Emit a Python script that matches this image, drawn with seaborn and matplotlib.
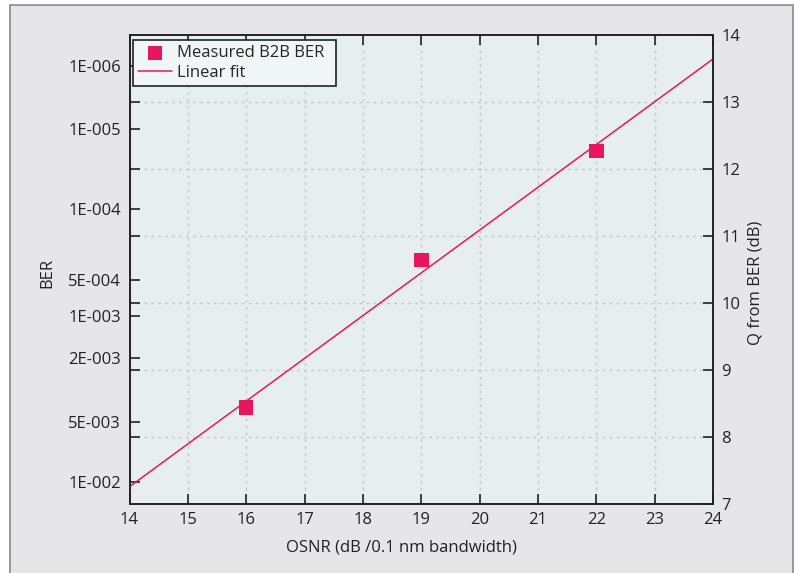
import math
import numpy as np
import pandas as pd
import matplotlib
matplotlib.use("Agg")
import matplotlib.pyplot as plt
import seaborn as sns

# measured back-to-back points (Q in dB)
osnr = [16, 19, 22]
q_db = [8.44, 10.64, 12.27]

ber_ticks = [1e-2, 5e-3, 2e-3, 1e-3, 5e-4, 1e-4, 1e-5, 1e-6]
ber_labels = ["1E-002", "5E-003", "2E-003", "1E-003", "5E-004", "1E-004", "1E-005", "1E-006"]
q_ticks = [7, 8, 9, 10, 11, 12, 13, 14]
x_ticks = list(range(14, 25))


def erfcinv(v):
    lo, hi = 0.0, 10.0
    for _ in range(200):
        mid = (lo + hi) / 2
        if math.erfc(mid) > v:
            lo = mid
        else:
            hi = mid
    return (lo + hi) / 2


def ber_to_qdb(b):
    return 20 * math.log10(math.sqrt(2) * erfcinv(2 * b))


pink = "#e8175d"
ink = "#222222"
sns.set_style("ticks")
plt.rcParams["font.family"] = ["Open Sans", "DejaVu Sans"]
plt.rcParams["font.size"] = 12

fig = plt.figure(figsize=(7.95, 5.73), dpi=100, facecolor="white")
frame = plt.Rectangle((10 / 795, -0.05), 783 / 795, 568 / 573 + 0.05, transform=fig.transFigure,
                      facecolor="#e6e6e8", edgecolor="#8a8a8a", linewidth=1.2, zorder=-10)
fig.patches.append(frame)

ax = fig.add_axes([129.5 / 795, 1 - 504 / 573, (713 - 129.5) / 795, (504 - 35) / 573])
ax.set_facecolor("#e6efee")

slope, icpt = np.polyfit(osnr, q_db, 1)
fit = pd.DataFrame({"x": [14, 24]})
fit["y"] = slope * fit["x"] + icpt
df = pd.DataFrame({"x": osnr, "y": q_db})

sns.lineplot(data=fit, x="x", y="y", ax=ax, color=pink, linewidth=1.1, label="Linear fit", zorder=3)
sns.scatterplot(data=df, x="x", y="y", ax=ax, color=pink, marker="s", s=110, edgecolor="none",
                label="Measured B2B BER", zorder=4)

ax.set_xlim(14, 24)
ax.set_ylim(7, 14)
ax.set_xticks(x_ticks)
ax.set_yticks([ber_to_qdb(b) for b in ber_ticks])
ax.set_yticklabels(ber_labels)
ax.set_yticks(q_ticks[1:-1], minor=True)
ax.grid(axis="x", which="major", color="#c4c8c8", linestyle=(0, (2, 3)), linewidth=1)
ax.grid(axis="y", which="minor", color="#c4c8c8", linestyle=(0, (2, 3)), linewidth=1)
ax.tick_params(which="both", direction="in", length=7, width=1.2, top=True, color=ink,
               labelcolor=ink, pad=6)
ax.set_xlabel("OSNR (dB /0.1 nm bandwidth)", color=ink, labelpad=8)
ax.xaxis.set_label_coords(0.466, -0.075)
ax.set_ylabel("BER", color=ink)
ax.yaxis.set_label_coords(-0.1277, 0.4925)
for s in ax.spines.values():
    s.set_linewidth(1.2)
    s.set_color(ink)

ax2 = ax.twinx()
ax2.set_ylim(7, 14)
ax2.set_yticks(q_ticks)
ax2.tick_params(direction="in", length=7, width=1.2, color=ink, labelcolor=ink, pad=6)
ax2.set_ylabel("Q from BER (dB)", color=ink)
ax2.yaxis.set_label_coords(1.0594, 0.471)
for s in ax2.spines.values():
    s.set_linewidth(1.2)
    s.set_color(ink)

h, l = ax.get_legend_handles_labels()
leg = ax.legend(h[::-1], l[::-1], loc="upper left", bbox_to_anchor=(0.006, 0, 0.348, 0.9893),
                mode="expand", borderaxespad=0.0,
                fancybox=False, framealpha=1, facecolor="#f0f6f6", edgecolor=ink,
                handlelength=2.0, handletextpad=0.3, borderpad=0.32, labelspacing=0.2)
leg.get_frame().set_linewidth(1.2)

fig.savefig("out.png", dpi=100)
